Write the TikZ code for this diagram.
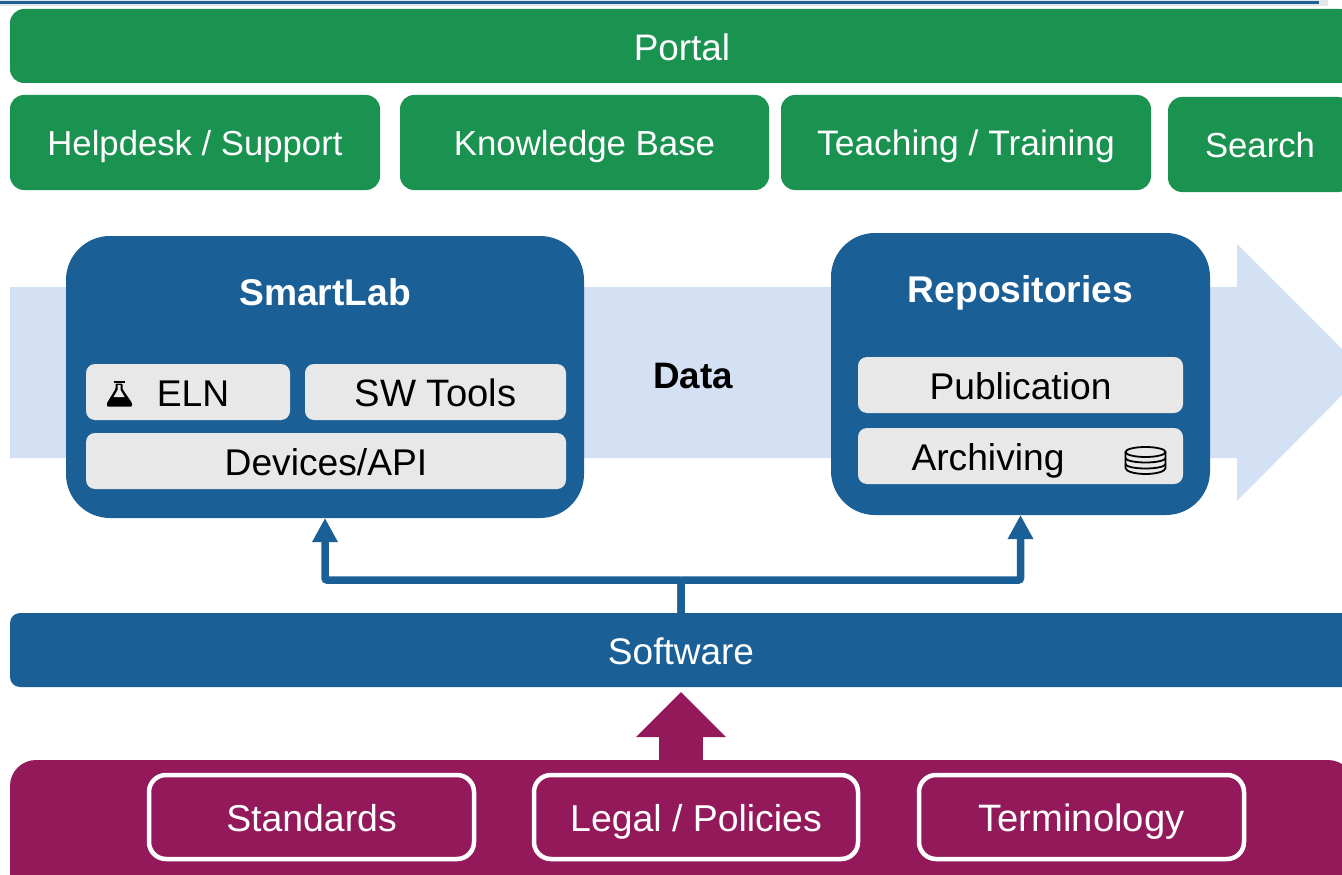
\documentclass[tikz,border=0pt]{standalone}
\usepackage{fontspec}
\setmainfont{Liberation Sans}
\usetikzlibrary{arrows.meta,calc}
\definecolor{gr}{HTML}{1B9350}
\definecolor{bl}{HTML}{1A5F96}
\definecolor{pu}{HTML}{93195A}
\definecolor{la}{HTML}{D4E0F3}
\definecolor{gy}{HTML}{E8E8E8}
\newcommand{\myfs}[1]{\fontsize{#1}{40}\selectfont}
\tikzset{
 base/.style={rectangle,inner sep=0pt,outer sep=0pt,text height=30pt,text depth=3pt,align=center},
 lower/.style={text height=31pt,text depth=2pt},
 greenbox/.style={base,fill=gr,text=white,rounded corners=14pt,font=\myfs{35},text height=29pt,text depth=4pt},
 softbox/.style={base,lower,fill=bl,text=white,rounded corners=10pt,font=\myfs{37}},
 panel/.style={base,fill=bl,rounded corners=44pt},
 title/.style={base,text=white,font=\bfseries\myfs{37.2}},
 item/.style={base,lower,fill=gy,text=black,rounded corners=9pt,font=\myfs{37.2}},
 purplebar/.style={base,fill=pu,rounded corners=26pt},
 ruleitem/.style={base,lower,draw=white,line width=4.5pt,fill=pu,text=white,rounded corners=17pt,font=\myfs{37.4}},
 link/.style={draw=bl,line width=7.5pt,rounded corners=2pt},
}
\newcommand{\bx}[7][]{\node[#6,minimum width=#4pt-#2pt,minimum height=#5pt-#3pt,#1] (#7) at ({(#2+#4)/2},{(#3+#5)/2})}
\begin{document}
\begin{tikzpicture}[x=1pt,y=-1pt]
\useasboundingbox (0,0) rectangle (1342,875);
\clip (0,0) rectangle (1342,875);
% top rule
\fill[black!10] (0,0) rectangle (1328,6);
\fill[bl] (0,1.5) rectangle (1319,4);
% portal row
\bx[font=\myfs{36.9},lower]{10}{9}{1354}{83}{greenbox}{portal} {Portal};
\bx[font=\myfs{34.7}]{10}{95}{380}{190}{greenbox}{help} {Helpdesk / Support};
\bx[font=\myfs{34.8}]{400}{95}{769}{190}{greenbox}{know} {Knowledge Base};
\bx[font=\myfs{35.4}]{781}{95}{1151}{190}{greenbox}{teach} {Teaching / Training};
\bx[font=\myfs{34.7}]{1168}{97}{1352}{192}{greenbox}{search} {Search};
% data arrow
\fill[la] (10,287) -- (1237,287) -- (1237,244) -- (1365,372) -- (1237,501) -- (1237,458) -- (10,458) -- cycle;
\node[base,font=\bfseries\myfs{36.8}] (data) at (693,375) {Data};
% panels
\bx{66}{236}{584}{518}{panel}{smart} {};
\bx{831}{233}{1210}{515}{panel}{repo} {};
\node[title] (smarttitle) at (325,292) {SmartLab};
\node[title] (repotitle) at (1020.5,289) {Repositories};
\bx{86}{364}{290}{420}{item}{eln} {\hspace*{10pt}ELN};
\bx[font=\myfs{38.2}]{305}{364}{566}{420}{item}{sw} {SW Tools};
\bx{86}{433}{566}{489}{item}{dev} {Devices/API};
\bx{858}{357}{1183}{413}{item}{pub} {Publication};
\bx{858}{428}{1183}{484}{item}{arch} {Archiving\hspace{65pt}};
% flask
\fill[black] (107,406.5) [rounded corners=1pt] -- (107,403) -- (115.5,389) -- (115.5,383.5) -- (122.5,383.5) -- (122.5,389) -- (132,403) -- (132,406.5) -- cycle;
\fill[gy] (117.6,385) -- (120.6,385) -- (120.6,390) -- (124.6,397) -- (113.6,397) -- (117.6,390) -- cycle;
\draw[black,line width=2pt] (113.5,381.8) -- (124.5,381.8);
% database
\begin{scope}[draw=black,line width=1.8pt]
\draw (1125.5,452) -- (1125.5,468) arc[start angle=180,end angle=0,x radius=20,y radius=6] -- (1165.5,452);
\draw (1145.5,452) ellipse[x radius=20,y radius=5];
\draw (1125.5,458) arc[start angle=180,end angle=0,x radius=20,y radius=4.5];
\draw (1125.5,464) arc[start angle=180,end angle=0,x radius=20,y radius=4.5];
\end{scope}
% software
\bx{10}{613}{1352}{687}{softbox}{soft} {Software};
\draw[link,-{Triangle[length=24pt,width=24pt]}] (soft.north) -- ++(0,-33) -| (smart.south);
\draw[link,-{Triangle[length=24pt,width=24pt]}] (soft.north) -- ++(0,-33) -| (repo.south);
% bottom
\bx{10}{760}{1354}{900}{purplebar}{bottom} {};
\coordinate (ptip) at ($(soft.south)+(0,5)$);
\draw[pu,line width=44pt,-{Triangle[length=45pt,width=87pt]}] (bottom.north -| ptip) -- (ptip);
\bx{149}{775}{474}{859}{ruleitem}{std} {Standards};
\bx{534}{775}{858}{859}{ruleitem}{legal} {Legal / Policies};
\bx[font=\myfs{38.2}]{919}{775}{1244}{859}{ruleitem}{term} {Terminology};
\end{tikzpicture}
\end{document}
